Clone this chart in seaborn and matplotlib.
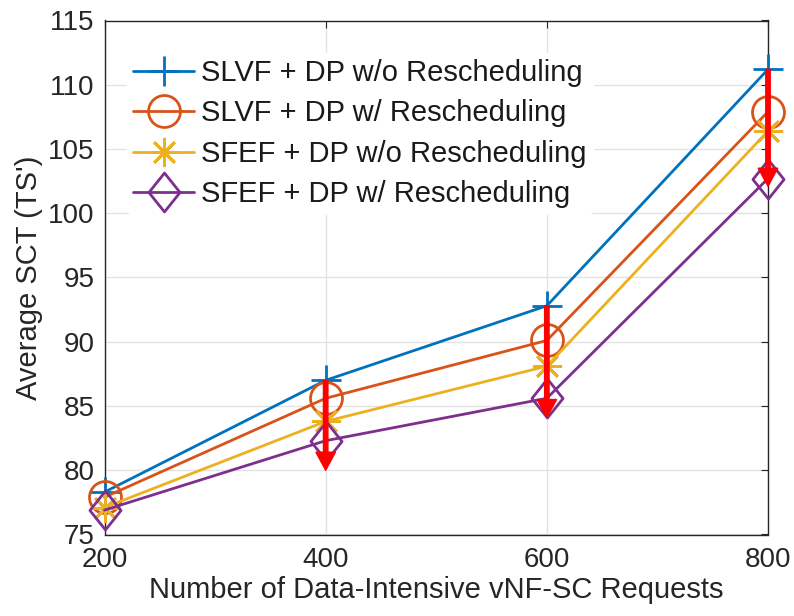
import numpy as np
import pandas as pd
import matplotlib
matplotlib.use("Agg")
import matplotlib.pyplot as plt
import seaborn as sns
from matplotlib.path import Path

# ---- data ----
requests = [200, 400, 600, 800]
slvf_wo = [78.3, 87.0, 92.8, 111.2]
slvf_w = [77.9, 85.6, 90.1, 107.9]
sfef_wo = [77.1, 83.8, 88.1, 106.4]
sfef_w = [76.9, 82.3, 85.6, 102.7]
arrow_ends = [80.0, 84.1, 102.1]   # arrow tips at 400, 600, 800
arrow_x = [400, 600, 800]
arrow_starts = slvf_wo[1:]

labels = ["SLVF + DP w/o Rescheduling", "SLVF + DP w/ Rescheduling",
          "SFEF + DP w/o Rescheduling", "SFEF + DP w/ Rescheduling"]
xticks = [200, 400, 600, 800]
yticks = [75, 80, 85, 90, 95, 100, 105, 110, 115]

sns.set_theme(style="white")
plt.rcParams['font.family'] = ['Liberation Sans', 'DejaVu Sans']

fig = plt.figure(figsize=(7.94, 6.16), dpi=100)
ax = fig.add_axes([104.5/794, (616-534.5)/616, (768-104.5)/794, (534.5-20.5)/616])

colors = ["#0072BD", "#D95319", "#EDB120", "#7E2F8E"]
diamond = Path([(0, 1), (0.8, 0), (0, -1), (-0.8, 0), (0, 1)],
               [Path.MOVETO, Path.LINETO, Path.LINETO, Path.LINETO, Path.CLOSEPOLY])
markers = ["+", "o", (8, 2, 0), diamond]
msizes = [22, 23, 21, 28]
series = [slvf_wo, slvf_w, sfef_wo, sfef_w]

for vals, lab, c, m, ms in zip(series, labels, colors, markers, msizes):
    df = pd.DataFrame({"x": requests, "y": vals})
    sns.lineplot(data=df, x="x", y="y", ax=ax, color=c, linewidth=2.0,
                 marker=m, markersize=ms, markerfacecolor="none",
                 markeredgecolor=c, markeredgewidth=2.0, label=lab, zorder=3,
                 clip_on=False)

for x, s, e in zip(arrow_x, arrow_starts, arrow_ends):
    ax.annotate("", xy=(x, e), xytext=(x, s),
                arrowprops=dict(facecolor="#FF0000", edgecolor="#FF0000",
                                width=3.2, headwidth=14, headlength=13, shrink=0),
                zorder=5)

ax.set_xlim(200, 800)
ax.set_ylim(75, 115)
ax.set_xticks(xticks)
ax.set_yticks(yticks)
ax.grid(True, color="#e3e3e3", linewidth=1.0)
ax.set_axisbelow(True)
for sp in ax.spines.values():
    sp.set_color("#262626")
    sp.set_linewidth(1.0)
ax.tick_params(axis="both", direction="in", length=5, width=0.8, colors="#262626",
               labelsize=20, top=True, right=True)
ax.tick_params(axis="x", pad=9)
ax.tick_params(axis="y", pad=7)
for t in ax.get_xticklabels() + ax.get_yticklabels():
    t.set_color("#262626")

ax.set_xlabel("Number of Data-Intensive vNF-SC Requests", fontsize=21, color="#262626", labelpad=2)
ax.set_ylabel("Average SCT (TS')", fontsize=21, color="#262626", labelpad=4)

leg = ax.legend(loc="upper left", bbox_to_anchor=(0.034, 0.937), fontsize=21,
                frameon=True, framealpha=1, edgecolor="white", facecolor="white",
                handlelength=2.1, handletextpad=0.25, labelspacing=0.43,
                borderpad=0.2, borderaxespad=0)
for t in leg.get_texts():
    t.set_color("#1a1a1a")

fig.savefig("out.png", dpi=100)
